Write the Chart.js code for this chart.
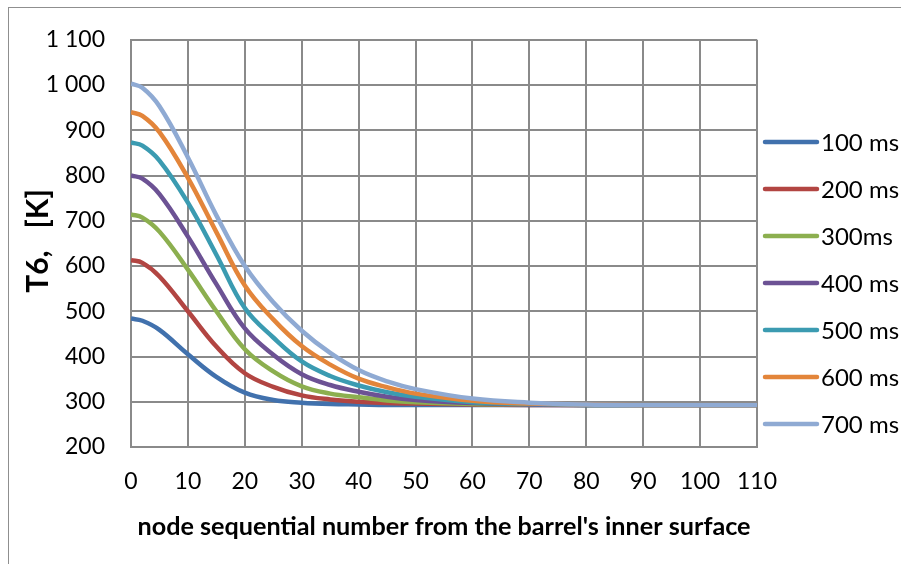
<!DOCTYPE html>
<html>
<head>
<meta charset="utf-8">
<script src="https://cdn.jsdelivr.net/npm/chart.js@4"></script>
<style>
  html, body { margin: 0; padding: 0; background: #fff; }
  #wrap { width: 901px; height: 564px; position: relative; }
</style>
</head>
<body>
<div id="wrap"><canvas id="myChart" width="901" height="564"></canvas></div>
<script>
const nodes = [0, 2, 5, 10, 15, 20, 25, 30, 35, 40, 45, 50, 60, 70, 80, 90, 100, 110];

const t100 = [484, 479, 459, 405, 355, 320, 304, 298, 295, 294, 293, 293, 293, 293, 293, 293, 293, 293];
const t200 = [613, 607, 577, 500, 422, 363, 333, 314, 305, 300, 297, 296, 294, 293, 293, 293, 293, 293];
const t300 = [714, 707, 676, 592, 500, 416, 367, 334, 318, 310, 303, 299, 295, 294, 293, 293, 293, 293];
const t400 = [800, 793, 759, 665, 560, 462, 404, 361, 337, 322, 311, 304, 297, 294, 293, 293, 293, 293];
const t500 = [873, 866, 833, 740, 625, 507, 442, 389, 357, 336, 321, 311, 299, 295, 293, 293, 293, 293];
const t600 = [940, 932, 896, 795, 675, 557, 482, 423, 382, 351, 332, 318, 302, 296, 294, 293, 293, 293];
const t700 = [1003, 994, 953, 840, 712, 600, 520, 457, 408, 370, 345, 328, 307, 298, 294, 293, 293, 293];

const seriesNames = ['100 ms', '200 ms', '300ms', '400 ms', '500 ms', '600 ms', '700 ms'];
const seriesColors = ['#4171ad', '#b24542', '#8caf4f', '#6c5294', '#3b9bb1', '#e3853a', '#8faad3'];
const seriesValues = [t100, t200, t300, t400, t500, t600, t700];

const yTickLabels = ['200', '300', '400', '500', '600', '700', '800', '900', '1 000', '1 100'];
const yTitle = 'T6,   [K]';
const xTitle = "node sequential number from the barrel's inner surface";

const FONT = 'Lato, Calibri, "Open Sans", sans-serif';
const GRID = '#8a8a8a';

const datasets = seriesValues.map((vals, i) => ({
    label: seriesNames[i],
    data: vals.map((v, k) => ({ x: nodes[k], y: v })),
    borderColor: seriesColors[i],
    backgroundColor: seriesColors[i],
    borderWidth: 4.5,
    pointRadius: 0,
    fill: false,
    tension: 0.4,
    order: seriesValues.length - i // 700 ms ends up on top like in Excel
}));

// outer frame, y title and the legend on the right
const frameAndLegend = {
    id: 'frameAndLegend',
    beforeDraw(chart) {
        const c = chart.ctx;
        c.save();
        c.fillStyle = '#fff';
        c.fillRect(0, 0, chart.width, chart.height);
        c.strokeStyle = '#8f8f8f';
        c.lineWidth = 1;
        c.strokeRect(8.5, 7.5, 905, 600);
        c.restore();
    },
    afterDraw(chart) {
        const c = chart.ctx;
        c.save();
        // y axis title, rotated
        c.translate(38, 241);
        c.rotate(-Math.PI / 2);
        c.font = 'bold 30px ' + FONT;
        c.fillStyle = '#000';
        c.textAlign = 'center';
        c.textBaseline = 'middle';
        c.fillText(yTitle, 0, 0);
        c.restore();

        c.save();
        c.font = '24px ' + FONT;
        c.textBaseline = 'middle';
        c.textAlign = 'left';
        chart.data.datasets.forEach((ds, i) => {
            const y = 142 + i * 47;
            c.strokeStyle = ds.borderColor;
            c.lineWidth = 4.5;
            c.lineCap = 'round';
            c.beginPath();
            c.moveTo(765, y);
            c.lineTo(817, y);
            c.stroke();
            c.fillStyle = '#000';
            c.fillText(ds.label, 821, y + 1);
        });
        c.restore();
    }
};

const ctx = document.getElementById('myChart').getContext('2d');
const myChart = new Chart(ctx, {
    type: 'line',
    data: { datasets: datasets },
    plugins: [frameAndLegend],
    options: {
        responsive: false,
        animation: false,
        layout: { padding: { left: 0, top: 28, right: 144, bottom: 0 } },
        plugins: {
            legend: { display: false },
            tooltip: { enabled: false }
        },
        scales: {
            x: {
                type: 'linear',
                min: 0,
                max: 110,
                ticks: {
                    stepSize: 10,
                    color: '#000',
                    padding: 21,
                    font: { family: FONT, size: 23 }
                },
                grid: { color: GRID, lineWidth: 2, drawTicks: false },
                border: { color: GRID, width: 2 },
                title: {
                    display: true,
                    text: xTitle,
                    color: '#000',
                    font: { family: FONT, size: 25.2, weight: 'bold' },
                    padding: { top: 0, bottom: 22 }
                },
                afterFit(scale) { scale.height = 117; }
            },
            y: {
                type: 'linear',
                min: 200,
                max: 1100,
                ticks: {
                    stepSize: 100,
                    color: '#000',
                    padding: 26,
                    font: { family: FONT, size: 23 },
                    callback: (v) => yTickLabels[Math.round((v - 200) / 100)]
                },
                grid: { color: GRID, lineWidth: 2, drawTicks: false },
                border: { color: GRID, width: 2 },
                afterFit(scale) { scale.width = 131; }
            }
        }
    }
});
</script>
</body>
</html>
